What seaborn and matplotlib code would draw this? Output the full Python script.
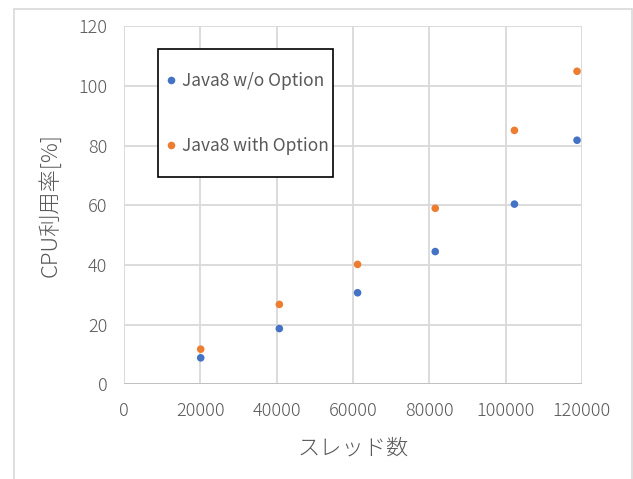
import pandas as pd
import numpy as np
import matplotlib
matplotlib.use('Agg')
import matplotlib.pyplot as plt
from matplotlib.patches import Rectangle
import seaborn as sns

sns.set_style('white')
plt.rcParams['font.family'] = ['Noto Sans CJK JP', 'DejaVu Sans']

# thread counts and CPU usage
threads = [20100, 40700, 61200, 81550, 102300, 118700]
cpu_no_opt = [8.9, 18.7, 30.7, 44.5, 60.4, 81.8]
cpu_with_opt = [11.8, 26.8, 40.2, 59.0, 85.1, 104.9]
series_names = ['Java8 w/o Option', 'Java8 with Option']
palette = ['#4472C4', '#ED7D31']

df = pd.DataFrame({
    'threads': threads * 2,
    'cpu': cpu_no_opt + cpu_with_opt,
    'series': [series_names[0]] * len(threads) + [series_names[1]] * len(threads),
})

fig = plt.figure(figsize=(6.33, 4.79), dpi=100)
W, H = 633, 479
ax = fig.add_axes([124 / W, 1 - 384.4 / H, (582 - 124) / W, (384.4 - 26.2) / H])

# outer chart border
fig.patches.append(Rectangle((14 / W, -0.05), (632 - 14) / W, 1.05 - 9 / H,
                             transform=fig.transFigure, fill=False,
                             edgecolor='#D9D9D9', linewidth=1.2))

sns.scatterplot(data=df, x='threads', y='cpu', hue='series', hue_order=series_names,
                palette=palette, s=30, edgecolor='none', ax=ax, zorder=3)

ax.set_xlim(0, 120000)
ax.set_ylim(0, 120)
ax.set_xticks(np.arange(0, 120001, 20000))
ax.set_yticks(np.arange(0, 121, 20))
ax.grid(True, color='#D9D9D9', linewidth=1.3)
ax.set_axisbelow(True)
for s in ax.spines.values():
    s.set_visible(False)
ax.axhline(0, color='#BFBFBF', linewidth=1.3, zorder=2)
ax.tick_params(axis='both', length=0, labelsize=13, labelcolor='#595959')
ax.tick_params(axis='x', pad=13)
ax.tick_params(axis='y', pad=12)
for lbl in ax.get_xticklabels() + ax.get_yticklabels():
    lbl.set_fontweight('light')

ax.set_xlabel('スレッド数', fontsize=16, color='#595959', labelpad=12, fontweight='light')
ax.set_ylabel('CPU利用率[%]', fontsize=16, color='#595959', labelpad=12, fontweight='light')

# legend box drawn separately (white fill, black edge), entries laid out on top
box = Rectangle((158 / W, 1 - 177 / H), (333 - 158) / W, (177 - 49) / H,
                transform=fig.transFigure, facecolor='white',
                edgecolor='black', linewidth=1.2, zorder=4, clip_on=False)
ax.add_patch(box)
leg = ax.legend(loc='upper left', bbox_to_anchor=(163 / W, 1 - 71.6 / H),
                bbox_transform=fig.transFigure, frameon=False, fontsize=12.5,
                labelspacing=2.72, handletextpad=0.2, borderpad=0,
                handlelength=0.88, borderaxespad=0)
leg.set_zorder(5)
for t in leg.get_texts():
    t.set_color('#595959')

plt.savefig('out.png', dpi=100)
